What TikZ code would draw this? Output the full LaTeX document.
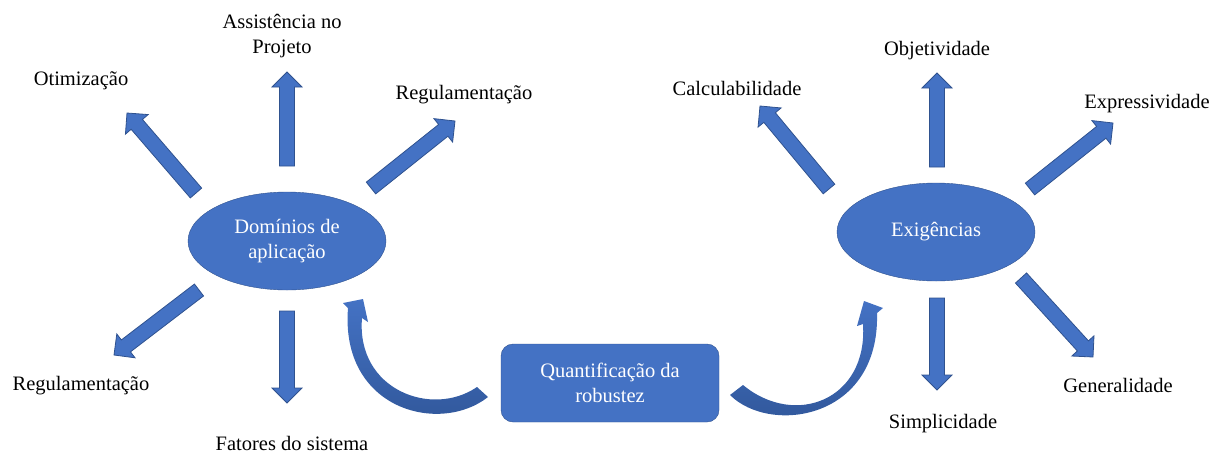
\documentclass[tikz,border=0pt]{standalone}
\usepackage{fontspec}
\setmainfont{LiberationSerif}[Extension=.ttf, UprightFont=*-Regular, BoldFont=*-Bold, ItalicFont=*-Italic]
\usetikzlibrary{shapes.geometric,calc}
\definecolor{fillblue}{HTML}{4472C4}
\definecolor{lineblue}{HTML}{2F528F}
\definecolor{darkblue}{HTML}{2F5597}

\begin{document}
\begin{tikzpicture}[x=1pt,y=-1pt,
  txt/.style={font=\fontsize{20.5}{25}\selectfont, inner sep=0pt},
  lbl/.style={txt, anchor=base},
  elp/.style={ellipse, draw=lineblue, fill=fillblue, text=white, txt, align=center, minimum width=198pt, minimum height=98pt},
  box/.style={rectangle, rounded corners=12pt, draw=lineblue, fill=fillblue, text=white, txt, align=center, minimum width=218pt, minimum height=78pt},
  blk/.style={draw=lineblue, fill=fillblue, line width=0.8pt, line join=miter},
  crv/.style={top color=fillblue, bottom color=darkblue}]
  \useasboundingbox (0,0) rectangle (1225,453);

  \node[elp] (dom) at (287,241) {Domínios de\\aplicação};
  \node[elp] (exig) at (936,232) {Exigências};
  \node[box] (quant) at (610,383) {Quantificação da\\robustez};

  \node[lbl] (otim) at (81,85) {Otimização};
  \node[txt, align=center] (assist) at (282,36) {Assistência no\\Projeto};
  \node[lbl] (reg1) at (464,99) {Regulamentação};
  \node[lbl] (reg2) at (81,390) {Regulamentação};
  \node[lbl] (fator) at (292,450) {Fatores do sistema};
  \node[lbl] (calc) at (737,95) {Calculabilidade};
  \node[lbl] (obj) at (937,55) {Objetividade};
  \node[lbl] (expr) at (1147,108) {Expressividade};
  \node[lbl] (gen) at (1118,392) {Generalidade};
  \node[lbl] (simp) at (943,428) {Simplicidade};

  \coordinate (ot1) at (196,193);
  \coordinate (ot2) at (127,113);
  \coordinate (as1) at (287,166);
  \coordinate (as2) at (287,72);
  \coordinate (rg1) at (371,188);
  \coordinate (rg2) at (455,121);
  \coordinate (rl1) at (199,290);
  \coordinate (rl2) at (114,355);
  \coordinate (fs1) at (287,311);
  \coordinate (fs2) at (287,403);
  \coordinate (ca1) at (829,189);
  \coordinate (ca2) at (760,106);
  \coordinate (ob1) at (937,167);
  \coordinate (ob2) at (937,73);
  \coordinate (ex1) at (1030,189);
  \coordinate (ex2) at (1113,123);
  \coordinate (ge1) at (1021,278);
  \coordinate (ge2) at (1093,357);
  \coordinate (si1) at (937,298);
  \coordinate (si2) at (937,390);

  \foreach \a/\b in {ot1/ot2, as1/as2, rg1/rg2, rl1/rl2, fs1/fs2, ca1/ca2, ob1/ob2, ex1/ex2, ge1/ge2, si1/si2}{
    \coordinate (hb) at ($(\b)!15pt!(\a)$);
    \draw[blk] ($(\a)!7.5pt!90:(\b)$) -- ($(hb)!7.5pt!90:(\b)$) -- ($(hb)!15pt!90:(\b)$) -- (\b)
      -- ($(hb)!15pt!-90:(\b)$) -- ($(hb)!7.5pt!-90:(\b)$) -- ($(\a)!7.5pt!-90:(\b)$) -- cycle;
  }

  \shade[crv] (488,397) .. controls (440,435) and (340,410) .. (348,308)
    -- (343,303) -- (363,299) -- (368,322) -- (362,318)
    .. controls (356,390) and (432,418) .. (477,387) -- cycle;
  \shade[crv] (730,395) .. controls (770,435) and (880,420) .. (877,313)
    -- (883,308) -- (864,301) -- (857,326) -- (863,324)
    .. controls (868,400) and (795,428) .. (743,385) -- cycle;
\end{tikzpicture}
\end{document}
